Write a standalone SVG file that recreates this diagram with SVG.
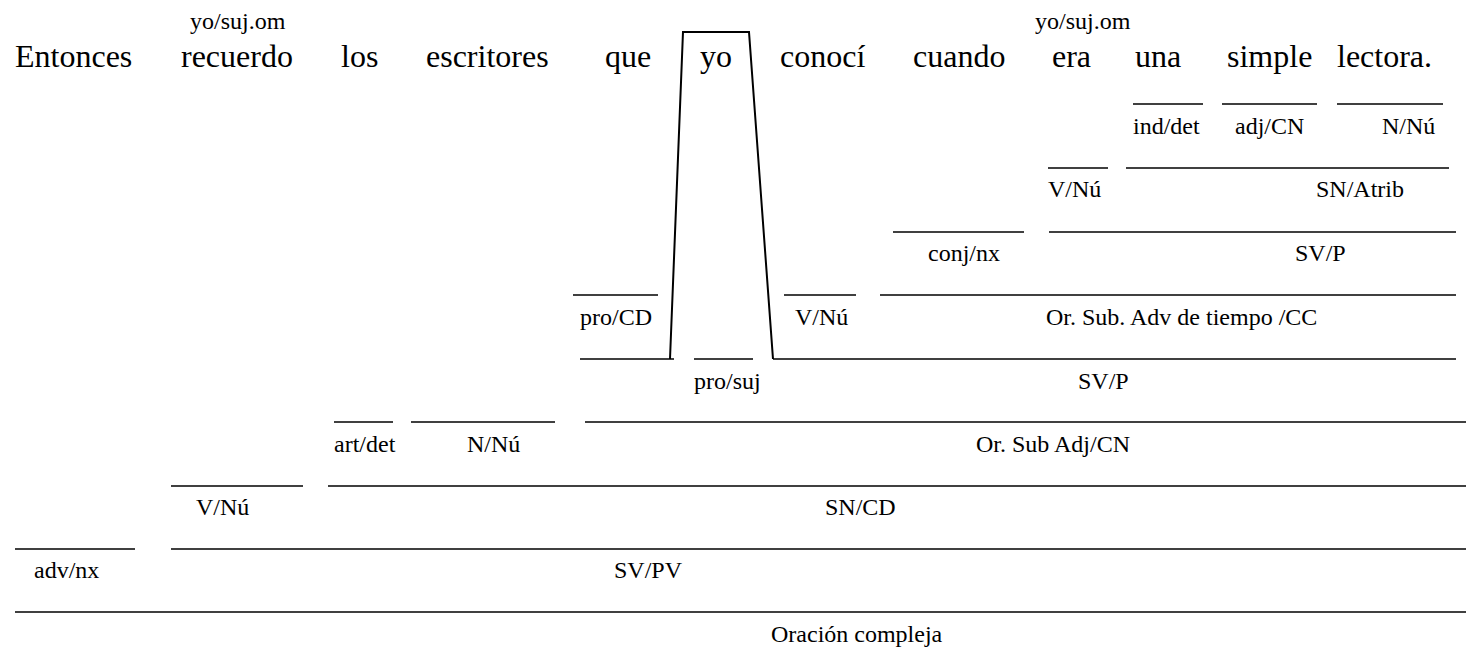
<svg xmlns="http://www.w3.org/2000/svg" width="1466" height="649" viewBox="0 0 1466 649">
<style>
.w{font-size:32px}
.l{font-size:24px}
.u{stroke:#000;stroke-width:1.3;fill:none}
.t{stroke:#000;stroke-width:2;fill:none;stroke-linejoin:miter}
</style>
<rect width="1466" height="649" fill="#fff"/>
<g id="words" font-family="Liberation Serif, Times New Roman, serif">
<text class="l" x="190" y="29">yo/suj.om</text>
<text class="l" x="1035" y="29">yo/suj.om</text>
<text class="w" x="15" y="67">Entonces</text>
<text class="w" x="181" y="67">recuerdo</text>
<text class="w" x="341" y="67">los</text>
<text class="w" x="426" y="67">escritores</text>
<text class="w" x="605" y="67">que</text>
<text class="w" x="700" y="67">yo</text>
<text class="w" x="780" y="67">conocí</text>
<text class="w" x="913" y="67">cuando</text>
<text class="w" x="1052" y="67">era</text>
<text class="w" x="1135" y="67">una</text>
<text class="w" x="1227" y="67">simple</text>
<text class="w" x="1337" y="67">lectora.</text>
</g>
<g id="connectors">
<polyline class="t" points="670,359 683,32 749,32 773,359"/>
<line class="u" x1="1133" y1="104" x2="1203" y2="104"/>
<line class="u" x1="1222" y1="104" x2="1317" y2="104"/>
<line class="u" x1="1337" y1="104" x2="1443" y2="104"/>
<line class="u" x1="1048" y1="168" x2="1108" y2="168"/>
<line class="u" x1="1126" y1="168" x2="1449" y2="168"/>
<line class="u" x1="893" y1="232" x2="1024" y2="232"/>
<line class="u" x1="1049" y1="232" x2="1456" y2="232"/>
<line class="u" x1="573" y1="295" x2="658" y2="295"/>
<line class="u" x1="784" y1="295" x2="856" y2="295"/>
<line class="u" x1="880" y1="295" x2="1456" y2="295"/>
<line class="u" x1="580" y1="359" x2="674" y2="359"/>
<line class="u" x1="694" y1="359" x2="753" y2="359"/>
<line class="u" x1="773" y1="359" x2="1456" y2="359"/>
<line class="u" x1="334" y1="422" x2="393" y2="422"/>
<line class="u" x1="411" y1="422" x2="555" y2="422"/>
<line class="u" x1="585" y1="422" x2="1466" y2="422"/>
<line class="u" x1="171" y1="486" x2="303" y2="486"/>
<line class="u" x1="328" y1="486" x2="1466" y2="486"/>
<line class="u" x1="15" y1="549" x2="135" y2="549"/>
<line class="u" x1="171" y1="549" x2="1466" y2="549"/>
<line class="u" x1="15" y1="612" x2="1466" y2="612"/>
</g>
<g id="labels" font-family="Liberation Serif, Times New Roman, serif">
<text class="l" x="1133" y="134">ind/det</text>
<text class="l" x="1235" y="134">adj/CN</text>
<text class="l" x="1382" y="134">N/Nú</text>
<text class="l" x="1048" y="197">V/Nú</text>
<text class="l" x="1316" y="197">SN/Atrib</text>
<text class="l" x="928" y="261">conj/nx</text>
<text class="l" x="1295" y="261">SV/P</text>
<text class="l" x="580" y="325">pro/CD</text>
<text class="l" x="795" y="325">V/Nú</text>
<text class="l" x="1046" y="325">Or. Sub. Adv de tiempo /CC</text>
<text class="l" x="694" y="389">pro/suj</text>
<text class="l" x="1078" y="389">SV/P</text>
<text class="l" x="334" y="452">art/det</text>
<text class="l" x="467" y="452">N/Nú</text>
<text class="l" x="976" y="452">Or. Sub Adj/CN</text>
<text class="l" x="196" y="515">V/Nú</text>
<text class="l" x="825" y="515">SN/CD</text>
<text class="l" x="34" y="578">adv/nx</text>
<text class="l" x="614" y="578">SV/PV</text>
<text class="l" x="771" y="642">Oración compleja</text>
</g>
</svg>
